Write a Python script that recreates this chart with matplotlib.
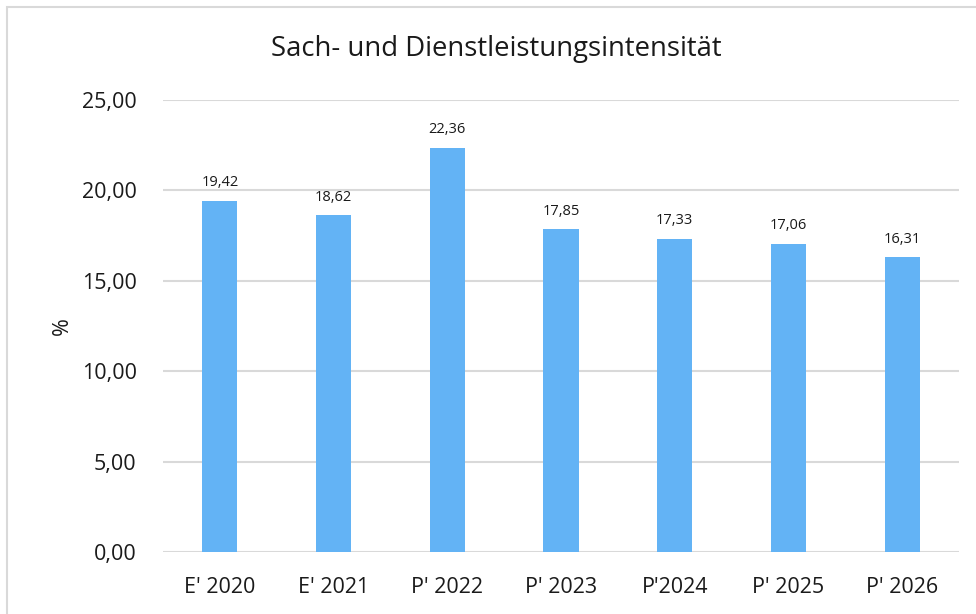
import matplotlib
matplotlib.use("Agg")
import matplotlib.pyplot as plt
from matplotlib.patches import Rectangle

categories = ["E' 2020", "E' 2021", "P' 2022", "P' 2023", "P'2024", "P' 2025", "P' 2026"]
values = [19.42, 18.62, 22.36, 17.85, 17.33, 17.06, 16.31]
yticks = [0, 5, 10, 15, 20, 25]

plt.rcParams['font.family'] = ['Open Sans', 'DejaVu Sans']

fig = plt.figure(figsize=(9.76, 6.14), dpi=100)
ax = fig.add_axes([163/976, 1 - 552/614, (959 - 163)/976, (552 - 100)/614])

x = list(range(len(categories)))
bars = ax.bar(x, values, width=0.31, color="#63B3F5", zorder=3)
for xi, v in zip(x, values):
    ax.annotate(f"{v:.2f}".replace(".", ","), (xi, v), xytext=(0, 7.5),
                textcoords="offset points", ha="center", va="bottom",
                fontsize=10.5, color="#1a1a1a")

ax.set_xlim(-0.5, len(categories) - 0.5)
ax.set_ylim(0, 25)
ax.set_yticks(yticks)
ax.set_yticklabels([f"{t:.2f}".replace(".", ",") for t in yticks])
ax.set_xticks(x)
ax.set_xticklabels(categories)
ax.tick_params(axis="both", length=0, labelsize=15.5, colors="#1a1a1a")
ax.tick_params(axis="y", pad=19)
ax.tick_params(axis="x", pad=18)
ax.grid(axis="y", color="#d9d9d9", linewidth=1.5, zorder=0)
for s in ax.spines.values():
    s.set_visible(False)

ax.set_ylabel("%", fontsize=15.5, color="#1a1a1a")
ax.yaxis.set_label_coords(-0.113, 0.50)

fig.text(0.509, 1 - 49/614, "Sach- und Dienstleistungsintensität", ha="center", va="center",
         fontsize=19.8, color="#1a1a1a")

fig.patches.append(Rectangle((7/976, -0.05), 1.1, 1 - 7/614 + 0.05, transform=fig.transFigure,
                             fill=False, edgecolor="#d9d9d9", linewidth=1.5))

fig.savefig("out.png", dpi=100)
